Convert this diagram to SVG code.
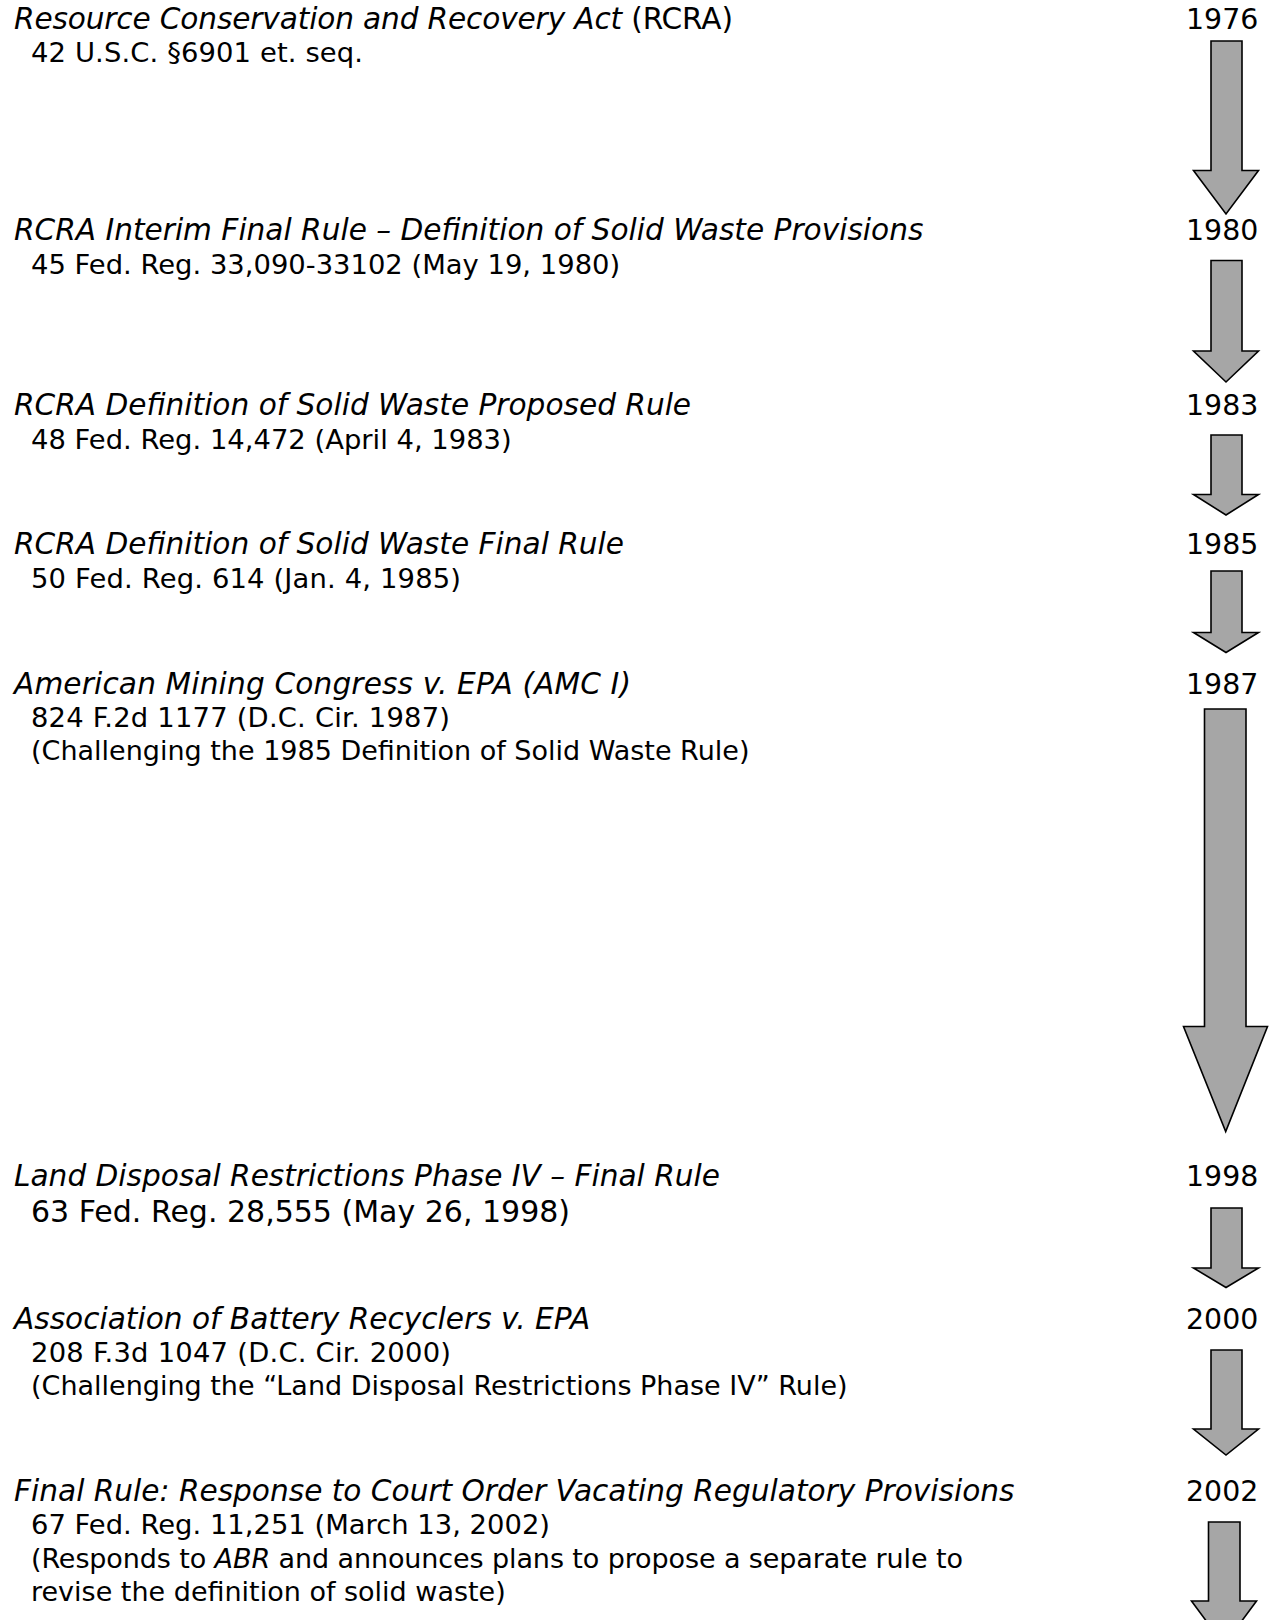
<svg xmlns="http://www.w3.org/2000/svg" width="1271" height="1620" viewBox="0 0 1271 1620">
<style>
text{font-family:"DejaVu Sans","Verdana",sans-serif;fill:#000}
.t{font-size:29.6px;font-style:italic}
.s{font-size:27px}
.sd{font-size:27.4px}
.s2{font-size:30px}
.y{font-size:28.4px}
.i{font-style:italic}
.arr{fill:#a6a6a6;stroke:#000;stroke-width:1.6;stroke-linejoin:miter}
</style>
<rect width="1271" height="1620" fill="#fff"/>
<g id="connectors">
<path class="arr" d="M1211,41 H1242 V170.5 H1258.5 L1226,214 L1193.5,170.5 H1211 Z"/>
<path class="arr" d="M1211,260.5 H1242 V351 H1258.5 L1226,382 L1193.5,351 H1211 Z"/>
<path class="arr" d="M1211,435 H1242 V494.5 H1258.5 L1226,515 L1193.5,494.5 H1211 Z"/>
<path class="arr" d="M1211,571 H1242 V632.5 H1258.5 L1226,652.5 L1193.5,632.5 H1211 Z"/>
<path class="arr" d="M1204.5,709 H1246 V1026.5 H1267.5 L1225.7,1131.5 L1183.5,1026.5 H1204.5 Z"/>
<path class="arr" d="M1211,1208 H1242 V1268 H1258.5 L1226,1287.5 L1193.5,1268 H1211 Z"/>
<path class="arr" d="M1211,1350 H1242 V1429 H1258.5 L1226,1455 L1193.5,1429 H1211 Z"/>
<path class="arr" d="M1208.5,1522 H1240 V1601 H1256.5 L1224,1645 L1191.5,1601 H1208.5 Z"/>
</g>
<g id="node-1976">
<text x="14" y="29" class="t" textLength="719" lengthAdjust="spacing">Resource Conservation and Recovery Act<tspan font-style="normal"> (RCRA)</tspan></text>
<text x="31" y="62" class="sd" textLength="332" lengthAdjust="spacing">42 U.S.C. §6901 et. seq.</text>
<text x="1186" y="29" class="y">1976</text>
</g>
<g id="node-1980">
<text x="14" y="240" class="t">RCRA Interim Final Rule – Definition of Solid Waste Provisions</text>
<text x="31" y="274" class="sd">45 Fed. Reg. 33,090-33102 (May 19, 1980)</text>
<text x="1186" y="240" class="y">1980</text>
</g>
<g id="node-1983">
<text x="14" y="415" class="t">RCRA Definition of Solid Waste Proposed Rule</text>
<text x="31" y="449" class="sd">48 Fed. Reg. 14,472 (April 4, 1983)</text>
<text x="1186" y="415" class="y">1983</text>
</g>
<g id="node-1985">
<text x="14" y="554" class="t">RCRA Definition of Solid Waste Final Rule</text>
<text x="31" y="588" class="sd" textLength="430" lengthAdjust="spacing">50 Fed. Reg. 614 (Jan. 4, 1985)</text>
<text x="1186" y="554" class="y">1985</text>
</g>
<g id="node-1987">
<text x="14" y="694" class="t" textLength="617" lengthAdjust="spacing">American Mining Congress v. EPA (AMC I)</text>
<text x="31" y="727" class="sd" textLength="419" lengthAdjust="spacing">824 F.2d 1177 (D.C. Cir. 1987)</text>
<text x="31" y="760" class="s">(Challenging the 1985 Definition of Solid Waste Rule)</text>
<text x="1186" y="694" class="y">1987</text>
</g>
<g id="node-1998">
<text x="14" y="1186" class="t">Land Disposal Restrictions Phase IV – Final Rule</text>
<text x="31" y="1222" class="s2">63 Fed. Reg. 28,555 (May 26, 1998)</text>
<text x="1186" y="1186" class="y">1998</text>
</g>
<g id="node-2000">
<text x="14" y="1329" class="t">Association of Battery Recyclers v. EPA</text>
<text x="31" y="1362" class="sd" textLength="420" lengthAdjust="spacing">208 F.3d 1047 (D.C. Cir. 2000)</text>
<text x="31" y="1395" class="s">(Challenging the “Land Disposal Restrictions Phase IV” Rule)</text>
<text x="1186" y="1329" class="y">2000</text>
</g>
<g id="node-2002">
<text x="14" y="1501" class="t">Final Rule: Response to Court Order Vacating Regulatory Provisions</text>
<text x="31" y="1534" class="sd">67 Fed. Reg. 11,251 (March 13, 2002)</text>
<text x="31" y="1568" class="s" textLength="932" lengthAdjust="spacing">(Responds to <tspan class="i">ABR</tspan> and announces plans to propose a separate rule to</text>
<text x="31" y="1601" class="s">revise the definition of solid waste)</text>
<text x="1186" y="1501" class="y">2002</text>
</g>
</svg>
